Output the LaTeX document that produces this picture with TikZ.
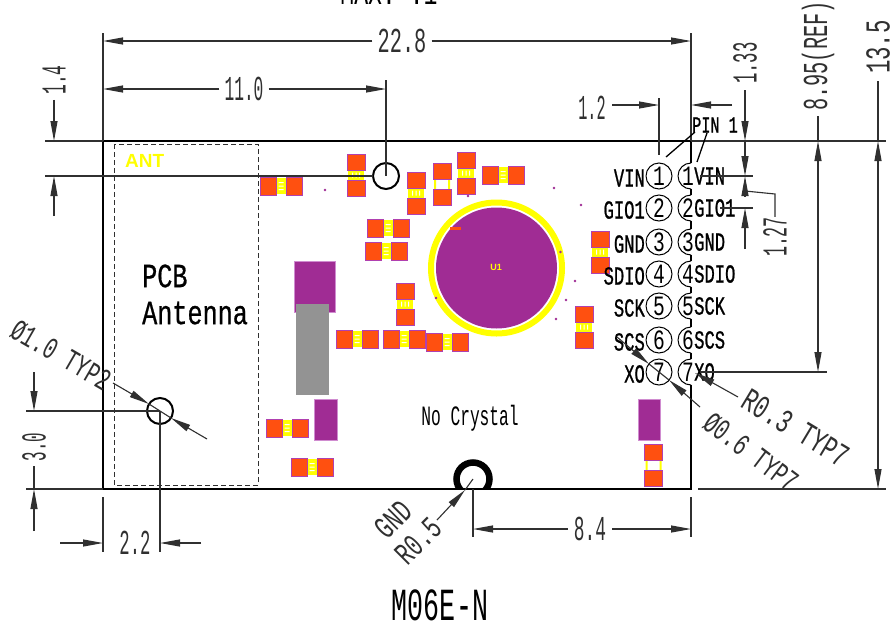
\documentclass[tikz,border=0pt]{standalone}
\usepackage{fontspec}
\usetikzlibrary{arrows.meta}
\setmainfont{Liberation Sans}
\newfontfamily\dimf[FakeStretch=.58]{Liberation Mono}
\newfontfamily\leadf[FakeStretch=.66]{Liberation Mono}
\newfontfamily\pinf[FakeStretch=.66,FakeBold=0.8]{Liberation Mono}
\newfontfamily\numf[FakeStretch=.70]{Liberation Mono}
\newfontfamily\pcbf[FakeStretch=.74,FakeBold=0.6]{Liberation Mono}
\newfontfamily\nocf[FakeStretch=.58]{Liberation Mono}
\newfontfamily\titf[FakeStretch=.58]{Liberation Mono}
\definecolor{padO}{HTML}{FF5010}
\definecolor{padB}{HTML}{B040B0}
\definecolor{purp}{HTML}{A02C94}
\definecolor{yel}{HTML}{FFFF00}
\definecolor{dimc}{HTML}{303030}
\tikzset{
  x=1pt,y=-1pt,
  dimtext/.style={inner sep=0pt,text=dimc,font=\fontsize{35}{35}\dimf},
  pintext/.style={inner sep=0pt,font=\fontsize{26}{26}\pinf},
  numtext/.style={inner sep=0pt,font=\fontsize{28}{28}\numf},
  leadtext/.style={inner sep=0pt,text=dimc,font=\fontsize{35}{35}\leadf},
  dl/.style={draw=dimc,line width=1.1pt},
  tip/.style={-{Triangle[length=20pt,width=7pt]}},
  tipb/.style={{Triangle[length=20pt,width=7pt]}-{Triangle[length=20pt,width=7pt]}},
  outline/.style={draw=black,line width=1.7pt},
  hole/.style={draw=black,line width=2pt},
  padh/.style={fill=padO,draw=padB,line width=.8pt,minimum width=16pt,minimum height=18pt,inner sep=0pt},
  padv/.style={fill=padO,draw=padB,line width=.8pt,minimum width=18pt,minimum height=16pt,inner sep=0pt},
  bodyh/.style={fill=yel,minimum width=11pt,minimum height=16pt,inner sep=0pt},
  bodyv/.style={fill=yel,minimum width=16pt,minimum height=11pt,inner sep=0pt},
  blob/.style={fill=purp,draw=padB!60!white,line width=.5pt},
  speck/.style={fill=purp,circle,inner sep=0pt,minimum size=2.6pt},
}
\newcommand{\hcomp}[2]{%
  \node[bodyh] at (#1,#2) {};
  \fill[white] (#1-2.5,#2-4) rectangle (#1+2.5,#2-3) (#1-2.5,#2-.5) rectangle (#1+2.5,#2+.5) (#1-2.5,#2+3) rectangle (#1+2.5,#2+4);
  \node[padh] at (#1-13,#2) {};
  \node[padh] at (#1+13,#2) {};}
\newcommand{\vcomp}[2]{%
  \node[bodyv] at (#1,#2) {};
  \fill[white] (#1-4,#2-2.5) rectangle (#1-3,#2+2.5) (#1-.5,#2-2.5) rectangle (#1+.5,#2+2.5) (#1+3,#2-2.5) rectangle (#1+4,#2+2.5);
  \node[padv] at (#1,#2-13) {};
  \node[padv] at (#1,#2+13) {};}
\newcommand{\vhollow}[2]{%
  \fill[yel] (#1-8,#2-6) rectangle (#1-6,#2+6) (#1+6,#2-6) rectangle (#1+8,#2+6);
  \node[padv] at (#1,#2-13) {};
  \node[padv] at (#1,#2+13) {};}
\begin{document}
\begin{tikzpicture}
\clip (0,0) rectangle (890,629);
\fill[white] (0,0) rectangle (890,629);
% named points
\coordinate (TL) at (103,141);
\coordinate (TR) at (691,141);
\coordinate (BL) at (103,489);
\coordinate (BR) at (691,489);
\coordinate (H1) at (386,176);
\coordinate (H2) at (160,411);
\coordinate (G) at (473,479);
\coordinate (U) at (496.5,268);

% components
\fill[blob] (294,261) rectangle (335,312);
\fill[blob] (314,399) rectangle (337,440);
\fill[blob] (638,399) rectangle (660,440);
\fill[gray!85!white] (295.5,304) rectangle (329,395);
\draw[yel,line width=6pt] (U) circle (65.5);
\fill[purp] (U) circle (60.5);
\fill[padO] (450,226.5) rectangle (461,229.5);
\node[inner sep=0pt,text=yel,font=\bfseries\fontsize{9}{9}\selectfont] (u1) at (496,267) {U1};
\hcomp{281}{186}
\vcomp{356}{175}
\vcomp{416}{193}
\vhollow{442}{184}
\vcomp{466}{173}
\hcomp{503}{175}
\hcomp{388}{228}
\hcomp{386}{251}
\vcomp{405}{304}
\hcomp{357}{339}
\hcomp{404}{339}
\hcomp{447}{342}
\hcomp{287}{428}
\hcomp{312}{467}
\vcomp{600}{252}
\vcomp{584}{327}
\vhollow{653.5}{465}
\foreach \p in {(325,190),(468,196),(436,298),(554,188),(581,205),(560.5,252),(575,281),(566,300),(556,319)}
  \node[speck] at \p {};

% antenna
\draw[dimc,line width=1pt,dash pattern=on 5pt off 3pt] (114,144) rectangle (258,485);
\node[inner sep=0pt,anchor=west,text=yel,font=\bfseries\fontsize{19}{19}\selectfont] (ant) at (125,161) {ANT};
\node[inner sep=0pt,anchor=west,font=\fontsize{34}{34}\pcbf] (pcb) at (142,276) {PCB};
\node[inner sep=0pt,anchor=west,font=\fontsize{34}{34}\pcbf] (ann) at (142,313) {Antenna};
\node[inner sep=0pt,font=\fontsize{28}{28}\nocf] (noc) at (470,418) {No Crystal};
\node[inner sep=0pt,font=\fontsize{46}{46}\titf] (tit) at (440,605) {M06E-N};
\node[inner sep=0pt,font=\fontsize{35}{35}\leadf,anchor=base] (top) at (389,5) {MAX: .1};

% board outline
\draw[outline] (691,141) -- (TL) -- (BL) -- (BR) -- (691,385);
\draw[outline,line width=1.4pt] (691,141) -- (691,163)
  (691,189) -- (691,195) (691,221) -- (691,229) (691,255) -- (691,261)
  (691,287) -- (691,293) (691,319) -- (691,327) (691,353) -- (691,359);
\begin{scope}
  \clip (650,141) rectangle (691,489);
  \foreach \y in {176,208,242,274,306,340,372}
    \draw[draw=black,line width=1pt] (691,\y) circle (13);
\end{scope}
\foreach \y/\n in {176/1,208/2,242/3,274/4,306/5,340/6,372/7}{
  \draw[draw=black,line width=1pt] (659,\y) circle (13);
  \node[numtext] (ln\n) at (659,\y) {\n};
  \node[numtext] (rn\n) at (688,\y) {\n};
}
\foreach \y/\t in {176/VIN,208/GIO1,242/GND,274/SDIO,306/SCK,340/SCS,372/XO}{
  \node[pintext,anchor=east] at (645,\y+2) {\t};
  \node[pintext,anchor=west] at (694,\y) {\t};
}

% holes
\draw[hole] (H1) circle (13);
\draw[hole] (H2) circle (13);
\begin{scope}
  \clip (440,440) rectangle (510,489);
  \draw[draw=black,line width=6.5pt] (G) circle (16.5);
\end{scope}

% extension lines
\draw[dl] (103,33) -- (TL);
\draw[dl] (691,33) -- (TR);
\draw[dl] (45,141) -- (TL);
\draw[dl] (TR) -- (886,141);
\draw[dl] (45,176) -- (373,176);
\draw[dl] (386,80) -- (H1);
\draw[dl] (26,489) -- (BL);
\draw[dl] (698,489) -- (886,489);
\draw[dl] (26,411) -- (H2);
\draw[dl] (103,497) -- (103,552);
\draw[dl] (H2) -- (160,552);
\draw[dl] (473,489) -- (473,537);
\draw[dl] (691,497) -- (691,537);
\draw[dl] (659,98) -- (659,155);
\draw[dl] (700,176) -- (753,176);
\draw[dl] (720,208) -- (753,208);
\draw[dl] (700,372) -- (827,372);

% 22.8
\node[dimtext] (d228) at (402,41) {22.8};
\draw[dl,tip] (d228.west) ++(-5,0) -- (103,41);
\draw[dl,tip] (d228.east) ++(5,0) -- (691,41);
% 11.0
\node[dimtext] (d110) at (244,89) {\scalebox{.8}[1]{11.0}};
\draw[dl,tip] (d110.west) ++(-5,0) -- (103,89);
\draw[dl,tip] (d110.east) ++(5,0) -- (386,89);
% 1.4
\node[dimtext,rotate=90] (d14) at (54,80) {\scalebox{.8}[1]{1.4}};
\draw[dl,tip] (d14.west) ++(0,5) -- (54,141);
\draw[dl,tip] (54,216) -- (54,176);
% 1.2
\node[dimtext] (d12) at (592,108) {\scalebox{.75}[1]{1.2}};
\draw[dl,tip] (612,105) -- (659,105);
\draw[dl,tip] (732,105) -- (691,105);
% 1.33
\node[dimtext,rotate=90] (d133) at (745,63) {\scalebox{.85}[1]{1.33}};
\draw[dl,tip] (745,90) -- (745,141);
\draw[dl,tip] (745,141) -- (745,176);
\draw[dl,tip] (745,196) -- (745,176);
\draw[dl,tip] (745,249) -- (745,208);
% 1.27
\node[dimtext,rotate=90] (d127) at (775,237) {\scalebox{.82}[1]{1.27}};
\draw[dl] (745,191) -- (775,194) -- (d127.east);
% 8.95
\node[dimtext,rotate=90] (d895) at (818,56) {8.95(REF)};
\draw[dl,tipb] (818,141) -- (818,372);
\draw[dl] (d895.west) ++(0,5) -- (818,141);
% 13.5
\node[dimtext,rotate=90] (d135) at (878,47) {\scalebox{1.1}[1]{13.5}};
\draw[dl,tipb] (878,141) -- (878,489);
\draw[dl] (d135.west) ++(0,7) -- (878,141);
% 3.0
\node[dimtext,rotate=90] (d30) at (34,447) {\scalebox{.78}[1]{3.0}};
\draw[dl,tip] (34,372) -- (34,411);
\draw[dl,tip] (34,531) -- (34,489);
\draw[dl] (d30.west) ++(0,5) -- (34,489);
% 2.2
\node[dimtext] (d22) at (135,543) {\scalebox{.85}[1]{2.2}};
\draw[dl,tip] (60,543) -- (103,543);
\draw[dl,tip] (201,543) -- (160,543);
% 8.4
\node[dimtext] (d84) at (590,529) {\scalebox{.88}[1]{8.4}};
\draw[dl,tip] (d84.west) ++(-6,0) -- (473,529);
\draw[dl,tip] (d84.east) ++(6,0) -- (691,529);

% leaders
\node[inner sep=0pt,text=black,font=\fontsize{23}{23}\pinf] (pin1) at (715,125) {PIN 1};
\draw[black,line width=1.3pt] (695,132) -- (666,157);
\draw[black,line width=1.3pt] (707,133) -- (697,162);

\node[leadtext,rotate=-30] (o10) at (61,355) {\scalebox{.88}{Ø1.0 TYP2}};
\draw[dl,tip] (113,383) -- (149,404);
\draw[dl,tip] (207,439) -- (171,418);
\draw[dl] (149,404) -- (171,418);

\node[leadtext,rotate=-31] (r03) at (796,428) {\scalebox{.95}{R0.3 TYP7}};
\draw[dl,tip] (738,397) -- (695,373);

\node[leadtext,rotate=-37] (o06) at (751,452) {\scalebox{.88}{Ø0.6 TYP7}};
\draw[dl,tip] (700,407) -- (669,380);
\draw[dl,tip] (617,337) -- (649,364);
\draw[dl] (649,364) -- (669,380);

\node[leadtext,rotate=45] (r05) at (418,541) {\scalebox{.92}{R0.5}};
\node[leadtext,rotate=45] (gnd) at (393,519) {\scalebox{.92}{GND}};
\draw[dl,tip] (437,520) -- (465,490);
\draw[dl] (465,490) -- (G);
\end{tikzpicture}
\end{document}
